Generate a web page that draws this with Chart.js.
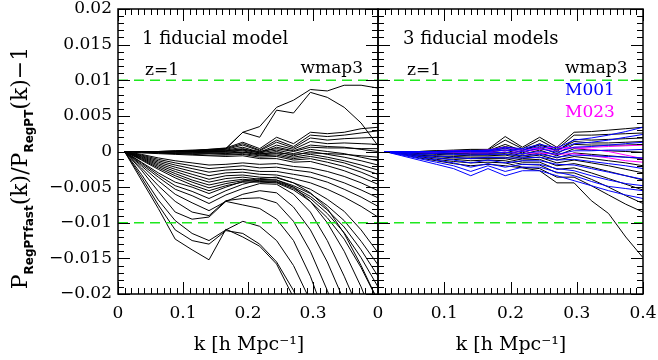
<!DOCTYPE html>
<html>
<head>
<meta charset="utf-8">
<script src="https://cdn.jsdelivr.net/npm/chart.js@4.4.0/dist/chart.umd.min.js"></script>
<style>
  body { margin: 0; background: #fff; }
  #wrap { position: relative; width: 658px; height: 360px; }
  #wrap canvas { position: absolute; left: 0; top: 0; }
</style>
</head>
<body>
<div id="wrap">
  <canvas id="leftPanel" width="658" height="360" style="width:658px;height:360px"></canvas>
  <canvas id="rightPanel" width="658" height="360" style="width:658px;height:360px"></canvas>
</div>
<script>
// k sampling of every curve [h/Mpc]
const kValues = [0.01, 0.036, 0.062, 0.088, 0.114, 0.14, 0.166, 0.192,
                 0.218, 0.244, 0.27, 0.296, 0.322, 0.348, 0.374, 0.4];

// P_fast/P_RegPT - 1, in units of 1e-3 (one row per cosmology)
const leftWmap3 = [
  [0, 0, 0, 0, 0.1, 0.2, 0.4, 2.7, 3.5, 6.2, 7.2, 8.7, 8.5, 9.3, 9.3, 8.9],
  [0, 0, 0, 0, 0.1, 0.2, 0.4, 2.7, 2.0, 5.8, 5.4, 8.3, 7.6, 6.2, 4.0, 0.8],
  [0, 0, 0, 0.1, 0.2, 0.3, 0.5, 1.3, 0.4, 2.0, 1.1, 2.7, 2.5, 2.7, 3.2, 3.4],
  [0, 0, 0, 0.1, 0.1, 0.3, 0.4, 1.1, 0.2, 1.6, 0.7, 2.3, 2.1, 2.3, 2.6, 2.9],
  [0, 0, 0, 0, 0.1, 0.2, 0.3, 0.9, 0.1, 1.3, 0.5, 1.9, 1.6, 1.8, 1.9, 2.0],
  [0, 0, 0, 0, 0, 0.1, 0.2, 0.6, -0.1, 0.9, 0.3, 1.4, 1.1, 1.2, 1.1, 1.0],
  [0, 0, 0, 0, 0, 0.1, 0.1, 0.4, -0.2, 0.6, 0.1, 0.9, 0.7, 0.6, 0.3, 0.0],
  [0, 0, 0, 0, 0, 0, 0.1, 0.3, 0, 0.4, 0, 0.6, 0.5, 0.5, 0.4, 0.4],
  [0, 0, 0, 0, 0, 0, 0, 0.2, -0.2, 0.2, -0.3, 0.3, 0.0, -0.3, -0.8, -1.3],
  [0, 0, -0.1, -0.1, -0.1, -0.2, -0.2, -0.1, -0.3, -0.2, -0.4, -0.2, -0.3, -0.4, -0.6, -0.8],
  [0, 0, -0.1, -0.1, -0.1, -0.1, -0.1, 0.1, -0.4, 0.0, -0.6, 0.0, -0.4, -0.8, -1.3, -1.9],
  [0, -0.1, -0.1, -0.2, -0.2, -0.2, -0.3, -0.1, -0.5, -0.3, -0.8, -0.4, -0.8, -1.3, -1.9, -2.6],
  [0, -0.1, -0.2, -0.3, -0.3, -0.3, -0.4, -0.3, -0.6, -0.5, -1.0, -0.7, -1.1, -1.6, -2.4, -3.2],
  [0, -0.1, -0.2, -0.3, -0.4, -0.5, -0.5, -0.4, -0.8, -0.7, -1.2, -1.0, -1.5, -2.1, -2.9, -3.9],
  [0, -0.2, -0.3, -0.4, -0.5, -0.6, -0.7, -0.6, -1.0, -1.0, -1.5, -1.4, -2.0, -2.7, -3.6, -4.6],
  [0, -0.4, -0.9, -1.3, -1.6, -1.9, -1.8, -1.6, -1.8, -1.7, -2.1, -2.3, -2.8, -3.5, -4.4, -5.5],
  [0, -0.5, -1.1, -1.6, -2.0, -2.4, -2.2, -2.0, -2.3, -2.2, -2.6, -2.9, -3.6, -4.4, -5.4, -6.5],
  [0, -0.6, -1.3, -1.9, -2.4, -2.9, -2.6, -2.5, -2.8, -2.8, -3.2, -3.6, -4.3, -5.3, -6.4, -7.7],
  [0, -0.7, -1.5, -2.2, -2.8, -3.4, -3.0, -2.9, -3.2, -3.3, -3.8, -4.4, -5.3, -6.4, -7.7, -9.2],
  [0, -0.8, -1.7, -2.5, -3.2, -3.9, -3.4, -3.3, -3.6, -3.7, -4.4, -5.3, -6.7, -8.4, -11.0, -14.2],
  [0, -0.9, -1.9, -2.8, -3.6, -4.3, -3.8, -3.6, -3.9, -4.0, -4.8, -5.9, -7.6, -9.7, -12.6, -15.9],
  [0, -1.0, -2.1, -3.1, -4.0, -4.7, -4.2, -3.9, -4.1, -4.2, -5.0, -6.3, -8.2, -10.6, -13.8, -17.5],
  [0, -1.1, -2.3, -3.4, -4.3, -5.1, -4.5, -4.1, -4.2, -4.3, -5.2, -6.6, -8.7, -11.4, -14.9, -19.0],
  [0, -1.2, -2.5, -3.7, -4.7, -5.5, -4.8, -4.3, -4.3, -4.4, -5.4, -7.0, -9.3, -12.3, -16.3, -21.0],
  [0, -1.5, -3.0, -4.3, -5.0, -5.9, -5.0, -4.2, -3.8, -3.6, -4.4, -5.8, -8.0, -11.5, -16.0, -21.0],
  [0, -1.6, -3.3, -4.8, -5.6, -6.6, -5.5, -4.6, -4.0, -4.0, -5.0, -7.0, -10.0, -14.0, -19.0, -25.0],
  [0, -1.8, -3.6, -5.3, -6.2, -7.3, -6.1, -5.2, -4.5, -4.6, -6.0, -8.5, -12.5, -17.5, -23.0, -29.0],
  [0, -2.0, -4.1, -6.0, -7.2, -8.3, -7.0, -6.0, -5.5, -5.8, -7.8, -11.0, -15.5, -21.0, -27.0, -33.0],
  [0, -2.3, -4.8, -7.0, -8.5, -9.0, -6.9, -6.6, -6.5, -7.2, -9.8, -14.0, -19.5, -26.0, -33.0, -40.0],
  [0, -2.6, -5.6, -8.5, -9.5, -9.2, -7.0, -7.5, -8.0, -9.5, -12.5, -17.5, -24.0, -31.0, -38.0, -45.0],
  [0, -3.2, -6.8, -9.7, -11.5, -12.5, -11.0, -9.8, -10.5, -12.5, -16.0, -21.0, -28.0, -35.0, -42.0, -49.0],
  [0, -3.6, -7.5, -11.0, -12.5, -13.0, -11.1, -11.5, -13.0, -15.5, -19.5, -25.0, -32.0, -40.0, -48.0, -56.0],
  [0, -4.0, -8.0, -12.3, -13.8, -15.2, -10.9, -12.0, -13.3, -15.8, -20.5, -27.0, -34.0, -42.0, -50.0, -58.0]
];

const rightWmap3 = [
  [0, 0, 0, 0.1, 0.2, 0.3, 0.3, 2.1, 0.6, 2.0, 0.6, 2.7, 2.8, 3.0, 3.2, 3.4],
  [0, 0, 0, 0.1, 0.1, 0.2, 0.2, 1.6, 0.4, 1.6, 0.3, 2.3, 2.3, 2.4, 2.5, 2.6],
  [0, 0, 0, 0, 0.1, 0.1, 0.1, 1.0, 0.1, 1.1, 0, 1.7, 1.6, 1.7, 1.8, 1.9],
  [0, 0, 0, 0, 0, 0.1, 0.1, 0.7, 0.2, 0.9, 0.2, 1.4, 1.2, 1.2, 1.3, 1.4],
  [0, 0, 0, 0, 0, 0, 0, 0.5, -0.2, 0.6, -0.3, 1.0, 0.9, 0.9, 0.9, 1.0],
  [0, 0, -0.1, -0.1, -0.1, -0.1, -0.1, 0.2, -0.4, 0.2, -0.6, 0.4, 0.2, 0.1, 0, -0.1],
  [0, -0.1, -0.1, -0.2, -0.2, -0.3, -0.3, -0.1, -0.6, -0.2, -0.9, -0.2, -0.4, -0.6, -0.8, -1.0],
  [0, -0.1, -0.2, -0.3, -0.3, -0.4, -0.4, -0.3, -0.8, -0.5, -1.2, -0.7, -1.0, -1.3, -1.6, -2.0],
  [0, -0.1, -0.3, -0.4, -0.5, -0.6, -0.6, -0.5, -1.0, -0.8, -1.6, -1.2, -1.6, -2.0, -2.5, -3.0],
  [0, -0.2, -0.4, -0.6, -0.7, -0.8, -0.8, -0.8, -1.2, -1.1, -2.0, -1.7, -2.2, -2.8, -3.4, -4.0],
  [0, -0.2, -0.5, -0.7, -0.9, -1.0, -1.0, -1.0, -1.5, -1.5, -2.5, -2.3, -3.0, -3.8, -4.6, -5.4],
  [0, -0.3, -0.6, -0.9, -1.1, -1.3, -1.2, -1.3, -1.8, -1.9, -3.0, -3.0, -3.9, -5.0, -6.2, -7.3],
  [0, -0.3, -0.7, -1.1, -1.4, -1.6, -1.5, -1.6, -2.2, -2.4, -3.6, -3.6, -4.8, -6.1, -7.4, -8.5],
  [0, -0.4, -0.9, -1.3, -1.7, -2.0, -1.8, -2.0, -2.3, -2.7, -4.4, -4.4, -6.9, -8.7, -12.0, -14.9]
];

const rightM001 = [
  [0, 0, 0, 0, 0.1, 0.1, 0.2, 0.6, 0.4, 1.0, 0.5, 1.6, 1.9, 2.3, 2.8, 3.4],
  [0, 0, 0, 0, 0, 0.1, 0.1, 0.4, 0.2, 0.7, 0.2, 1.1, 1.3, 1.6, 2.0, 2.4],
  [0, 0, 0, 0, 0, 0, 0, 0.2, 0, 0.4, -0.1, 0.6, 0.7, 0.9, 1.1, 1.3],
  [0, -0.1, -0.1, -0.1, -0.2, -0.2, -0.2, -0.1, -0.3, 0, -0.4, 0.1, 0.1, 0.2, 0.2, 0.3],
  [0, -0.1, -0.2, -0.3, -0.4, -0.5, -0.4, -0.4, -0.6, -0.4, -0.8, -0.5, -0.6, -0.7, -0.8, -0.9],
  [0, -0.2, -0.4, -0.6, -0.8, -1.0, -0.8, -0.9, -0.9, -0.8, -1.2, -1.1, -1.4, -1.7, -2.0, -2.4],
  [0, -0.3, -0.6, -0.9, -1.2, -1.6, -1.2, -1.6, -1.3, -1.3, -1.8, -1.9, -2.4, -2.9, -3.4, -3.9],
  [0, -0.4, -0.8, -1.2, -1.6, -2.2, -1.7, -2.2, -1.8, -1.8, -2.4, -2.7, -3.4, -4.0, -4.5, -4.8],
  [0, -0.5, -1.0, -1.5, -2.0, -2.8, -2.0, -2.8, -2.2, -2.2, -2.9, -3.4, -4.2, -4.9, -5.2, -5.5],
  [0, -0.6, -1.2, -1.8, -2.4, -3.4, -2.4, -3.4, -2.7, -2.7, -3.4, -4.1, -4.8, -5.5, -6.1, -6.6]
];

const rightM023 = [
  [0, 0, 0, 0, 0.1, 0.1, 0.2, 0.6, 0.2, 0.5, 0.6, 0.5, 0.3, 0, -0.5, -1.0],
  [0, 0, 0, 0, 0, 0, 0, 0.2, 0, 0.3, 0.2, 0.6, 0.6, 0.7, 0.8, 0.9],
  [0, 0, -0.1, -0.1, -0.1, -0.2, -0.2, -0.1, -0.3, -0.2, -0.4, -0.3, -0.6, -0.9, -1.3, -1.5]
];

const accuracyBand = [0.01, -0.01];
const yTickLabels = ['\u22120.02', '\u22120.015', '\u22120.01', '\u22120.005', '0',
                     '0.005', '0.01', '0.015', '0.02'];
const leftXLabels = ['0', '0.1', '0.2', '0.3', ''];
const rightXLabels = ['0', '0.1', '0.2', '0.3', '0.4'];

const SERIF = '"DejaVu Serif", serif';

function curveSets(rows, color, order) {
  return rows.map((row) => ({
    data: kValues.map((k, i) => ({ x: k, y: row[i] * 1e-3 })),
    borderColor: color,
    borderWidth: 1,
    pointRadius: 0,
    tension: 0,
    order: order,
  }));
}

function bandSets() {
  return accuracyBand.map((v) => ({
    data: [{ x: 0, y: v }, { x: 0.4, y: v }],
    borderColor: '#1ee81e',
    borderWidth: 1.5,
    borderDash: [10, 6],
    pointRadius: 0,
    order: 0,
  }));
}

// box with inward major/minor ticks on all four sides
const panelFrame = {
  id: 'panelFrame',
  afterDraw(chart) {
    const ctx = chart.ctx;
    const a = chart.chartArea;
    const xs = chart.scales.x, ys = chart.scales.y;
    ctx.save();
    ctx.setLineDash([]);
    ctx.fillStyle = '#000';
    for (let i = 0; i <= 40; i++) {
      const px = Math.round(xs.getPixelForValue(i / 100));
      const len = i % 10 === 0 ? 12 : 6;
      ctx.fillRect(px, a.bottom - len, 1, len);
      ctx.fillRect(px, a.top, 1, len);
    }
    for (let i = -20; i <= 20; i++) {
      const py = Math.round(ys.getPixelForValue(i / 1000));
      const len = i % 5 === 0 ? 12 : 6;
      ctx.fillRect(a.left, py, len, 1);
      ctx.fillRect(a.right - len, py, len, 1);
    }
    ctx.strokeStyle = '#000';
    ctx.lineWidth = 1.5;
    ctx.strokeRect(a.left, a.top, a.right - a.left, a.bottom - a.top);
    ctx.restore();
  }
};

// free text inside/under the panels
const panelNotes = {
  id: 'panelNotes',
  afterDraw(chart, args, opts) {
    const ctx = chart.ctx;
    ctx.save();
    (opts.items || []).forEach((n) => {
      ctx.font = (n.size || 17) + 'px ' + SERIF;
      ctx.fillStyle = n.color || '#000';
      ctx.textAlign = n.align || 'left';
      ctx.textBaseline = 'alphabetic';
      ctx.fillText(n.text, n.x, n.y);
    });
    ctx.restore();
  }
};

// rotated y title with subscripts
const yTitle = {
  id: 'yTitle',
  afterDraw(chart) {
    const ctx = chart.ctx;
    const main = '22px ' + SERIF;
    const sub = 'bold 12px "DejaVu Sans", sans-serif';
    const parts = [
      ['P', main, 0], ['RegPTfast', sub, 6], ['(k)/P', main, 0],
      ['RegPT', sub, 6], ['(k)\u22121', main, 0]
    ];
    ctx.save();
    let total = 0;
    parts.forEach((p) => { ctx.font = p[1]; total += ctx.measureText(p[0]).width; });
    ctx.translate(27, 168 + total / 2);
    ctx.rotate(-Math.PI / 2);
    ctx.fillStyle = '#000';
    ctx.textBaseline = 'alphabetic';
    let u = 0;
    parts.forEach((p) => {
      ctx.font = p[1];
      ctx.fillText(p[0], u, p[2]);
      u += ctx.measureText(p[0]).width;
    });
    ctx.restore();
  }
};

function xScale(labels, height) {
  return {
    type: 'linear', min: 0, max: 0.4,
    grid: { display: false, drawTicks: false }, border: { display: false },
    ticks: {
      stepSize: 0.1, padding: 9, color: '#000', maxRotation: 0,
      font: { family: SERIF, size: 17 },
      callback: (v, i) => labels[i],
    },
    afterFit: (s) => { s.height = height; s.paddingLeft = 0; s.paddingRight = 0; },
  };
}

function yScale(show, width) {
  return {
    type: 'linear', min: -0.02, max: 0.02, display: show,
    grid: { display: false, drawTicks: false }, border: { display: false },
    ticks: {
      stepSize: 0.005, padding: 6, color: '#000',
      font: { family: SERIF, size: 17 },
      callback: (v, i) => yTickLabels[i],
    },
    afterFit: (s) => { s.width = width; s.paddingTop = 0; s.paddingBottom = 0; },
  };
}

const kTitle = 'k [h Mpc\u207B\u00B9]';

new Chart(document.getElementById('leftPanel'), {
  type: 'line',
  data: { datasets: [...bandSets(), ...curveSets(leftWmap3, '#000', 3)] },
  options: {
    responsive: false, animation: false,
    layout: { padding: { left: 0, right: 280, top: 9, bottom: 0 } },
    scales: { x: xScale(leftXLabels, 66), y: yScale(true, 118) },
    plugins: {
      legend: { display: false }, tooltip: { enabled: false },
      panelNotes: { items: [
        { text: '1 fiducial model', x: 142, y: 44, size: 18 },
        { text: 'z=1', x: 145, y: 75 },
        { text: 'wmap3', x: 363, y: 73, align: 'right' },
        { text: kTitle, x: 249, y: 350, align: 'center', size: 19 },
      ] },
    },
  },
  plugins: [panelFrame, panelNotes, yTitle],
});

new Chart(document.getElementById('rightPanel'), {
  type: 'line',
  data: {
    datasets: [
      ...bandSets(),
      ...curveSets(rightM001, '#0000ff', 1),
      ...curveSets(rightM023, '#ff00ff', 2),
      ...curveSets(rightWmap3, '#000', 3),
    ],
  },
  options: {
    responsive: false, animation: false,
    layout: { padding: { left: 378, right: 15, top: 9, bottom: 0 } },
    scales: { x: xScale(rightXLabels, 66), y: yScale(false, 0) },
    plugins: {
      legend: { display: false }, tooltip: { enabled: false },
      panelNotes: { items: [
        { text: '3 fiducial models', x: 403, y: 44, size: 18 },
        { text: 'z=1', x: 407, y: 75 },
        { text: 'wmap3', x: 565, y: 73 },
        { text: 'M001', x: 565, y: 95, color: '#0000ff' },
        { text: 'M023', x: 565, y: 117, color: '#ff00ff' },
        { text: kTitle, x: 511, y: 350, align: 'center', size: 19 },
      ] },
    },
  },
  plugins: [panelFrame, panelNotes],
});
</script>
</body>
</html>
